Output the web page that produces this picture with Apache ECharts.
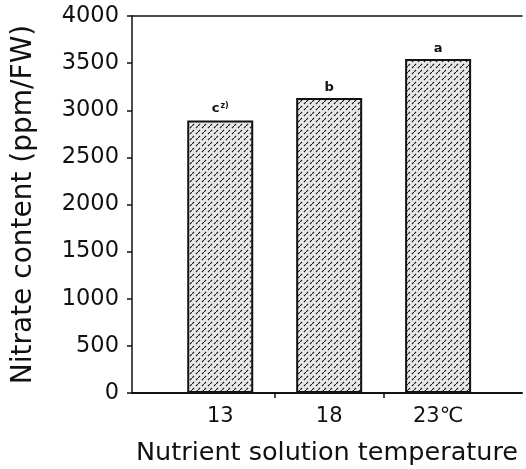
<!DOCTYPE html>
<html>
<head>
<meta charset="utf-8">
<script src="https://cdn.jsdelivr.net/npm/echarts@6/dist/echarts.min.js"></script>
<style>
  html, body { margin: 0; padding: 0; background: #fff; }
  #chart { width: 526px; height: 469px; }
</style>
</head>
<body>
<div id="chart"></div>
<script>
// data
const temps = ['13', '18', '23℃'];
const nitrate = [2890, 3130, 3545];
const letters = ['c', 'b', 'a'];
const yTicks = [0, 500, 1000, 1500, 2000, 2500, 3000, 3500, 4000];

// hatched fill like the printed bars
const makeHatch = () => {
  const c = document.createElement('canvas');
  c.width = 6; c.height = 6;
  const ctx = c.getContext('2d');
  ctx.fillStyle = '#e8e8e8';
  ctx.fillRect(0, 0, 6, 6);
  ctx.strokeStyle = '#1a1a1a';
  ctx.lineWidth = 1.1;
  ctx.setLineDash([3, 2.5]);
  ctx.beginPath();
  ctx.moveTo(0, 6); ctx.lineTo(6, 0);
  ctx.stroke();
  return c;
};

const font = 'DejaVu Sans, Liberation Sans, sans-serif';
const chart = echarts.init(document.getElementById('chart'));

const option = {
  animation: false,
  grid: { left: 132, right: 4, top: 16, bottom: 76, outerBoundsMode: 'none', containLabel: false },
  xAxis: [
    {
      type: 'value',
      min: 0.19,
      max: 3.77,
      splitLine: { show: false },
      axisLine: { show: true, lineStyle: { color: '#111', width: 2 } },
      axisTick: { show: true, customValues: [1.5, 2.5], length: 5, lineStyle: { color: '#111', width: 1.5 } },
      axisLabel: {
        customValues: [1, 2, 3],
        formatter: v => temps[Math.round(v) - 1],
        color: '#111', fontFamily: font, fontSize: 21, margin: 13
      },
      name: 'Nutrient solution temperature',
      nameLocation: 'middle',
      nameGap: 47,
      nameTextStyle: { color: '#111', fontFamily: font, fontSize: 25.5 }
    },
    {
      type: 'value',
      position: 'top',
      min: 0.19,
      max: 3.77,
      splitLine: { show: false },
      axisLine: { show: true, lineStyle: { color: '#111', width: 1.5 } },
      axisTick: { show: false },
      axisLabel: { show: false }
    }
  ],
  yAxis: {
    type: 'value',
    min: 0,
    max: 4000,
    interval: 500,
    splitLine: { show: false },
    axisLine: { show: true, lineStyle: { color: '#111', width: 1.5 } },
    axisTick: { show: true, length: 5, lineStyle: { color: '#111', width: 1.5 } },
    axisLabel: {
      color: '#111', fontFamily: font, fontSize: 22.5, margin: 13,
      formatter: v => (yTicks.includes(v) ? String(v) : '')
    },
    name: 'Nitrate content (ppm/FW)',
    nameLocation: 'middle',
    nameGap: 94,
    nameTextStyle: { color: '#111', fontFamily: font, fontSize: 28 }
  },
  series: [
    {
      type: 'bar',
      xAxisIndex: 0,
      barWidth: 66,
      data: nitrate.map((v, i) => [i + 1, v]),
      itemStyle: {
        color: { image: makeHatch(), repeat: 'repeat' },
        borderColor: '#111',
        borderWidth: 2
      },
      label: {
        show: true,
        position: 'top',
        distance: 4,
        formatter: p => {
          const i = p.dataIndex;
          return i === 0 ? '{b|' + letters[i] + '}{s|z)}' : '{b|' + letters[i] + '}';
        },
        rich: {
          b: { fontFamily: font, fontSize: 13, fontWeight: 'bold', color: '#111' },
          s: { fontFamily: font, fontSize: 8, fontWeight: 'bold', color: '#111', padding: [0, 0, 7, 1] }
        }
      }
    }
  ]
};

chart.setOption(option);
</script>
</body>
</html>
